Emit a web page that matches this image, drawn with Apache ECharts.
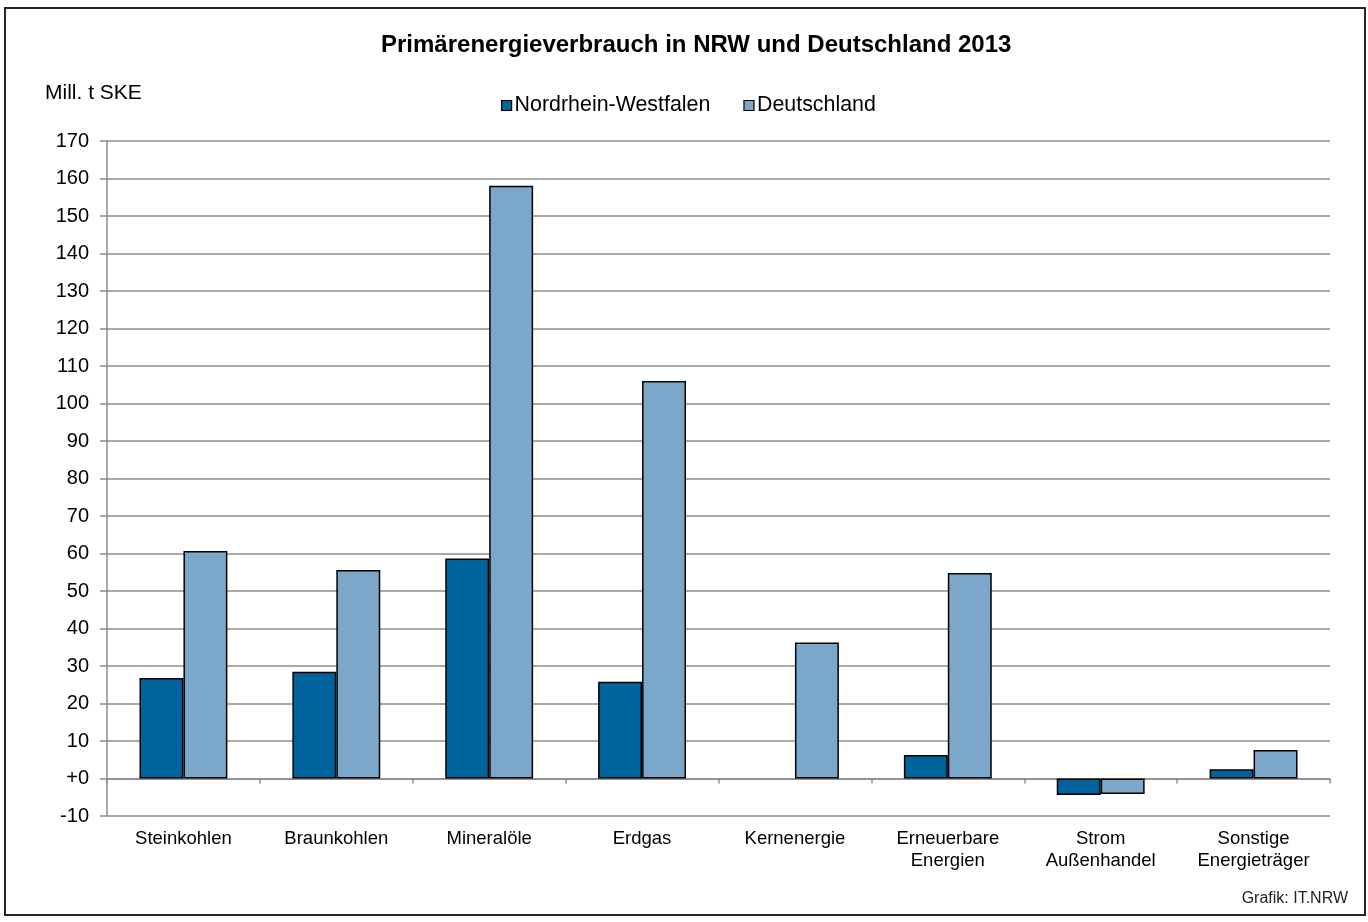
<!DOCTYPE html>
<html>
<head>
<meta charset="utf-8">
<script src="https://cdn.jsdelivr.net/npm/echarts@6/dist/echarts.min.js"></script>
<style>html,body{margin:0;padding:0;background:#fff}#c{width:1368px;height:922px}</style>
</head>
<body>
<div id="c"></div>
<script>
const categories = ['Steinkohlen','Braunkohlen','Mineralöle','Erdgas','Kernenergie','Erneuerbare\nEnergien','Strom\nAußenhandel','Sonstige\nEnergieträger'];
const nrwValues = [26.8, 28.5, 58.7, 25.8, 0, 6.3, -4.4, 2.5];
const deValues = [60.7, 55.6, 158.1, 106.0, 36.3, 54.8, -4.1, 7.6];
const seriesNames = ['Nordrhein-Westfalen', 'Deutschland'];
const yMin = -10, yMax = 170, yStep = 10;

const font = 'Liberation Sans, Arial, sans-serif';
const noBorderZero = arr => arr.map(v => v === 0 ? {value: v, itemStyle: {borderWidth: 0}} : v);
const chart = echarts.init(document.getElementById('c'), null, {renderer: 'canvas'});
chart.setOption({
  animation: false,
  backgroundColor: '#fff',
  textStyle: {fontFamily: font},
  title: {
    text: 'Primärenergieverbrauch in NRW und Deutschland 2013',
    left: 376, top: 28,
    textStyle: {fontFamily: font, fontSize: 24, fontWeight: 'bold', color: '#000'}
  },
  legend: {
    data: seriesNames,
    top: 90, left: 496,
    icon: 'rect',
    itemWidth: 10, itemHeight: 10, itemGap: 33,
    textStyle: {fontFamily: font, fontSize: 21.4, color: '#000', padding: [0,0,0,-2]},
    itemStyle: {borderColor: '#000', borderWidth: 1.2}
  },
  graphic: [
    {type: 'rect', shape: {x: 5, y: 8, width: 1360, height: 907}, style: {fill: 'none', stroke: '#262626', lineWidth: 2}, silent: true},
    {type: 'text', left: 45, top: 83, style: {text: 'Mill. t SKE', font: '21px ' + font, fill: '#000'}},
    {type: 'text', right: 20, top: 891, style: {text: 'Grafik: IT.NRW', font: '16px ' + font, fill: '#222'}}
  ],
  grid: {left: 107, right: 38, top: 141, bottom: 106, containLabel: false},
  xAxis: [
    {
      type: 'category', data: categories,
      axisLine: {onZero: true, lineStyle: {color: '#8c8c8c', width: 1.5}},
      axisTick: {show: true, length: 5, lineStyle: {color: '#8c8c8c', width: 1.5}},
      axisLabel: {show: false},
      splitLine: {show: false}
    },
    {
      type: 'category', data: categories, position: 'bottom',
      axisLine: {show: false}, axisTick: {show: false},
      axisLabel: {show: true, interval: 0, fontFamily: font, fontSize: 18.5, color: '#000', margin: 12, lineHeight: 22}
    }
  ],
  yAxis: {
    type: 'value', min: yMin, max: yMax, interval: yStep,
    axisLine: {show: true, lineStyle: {color: '#8c8c8c', width: 1.5}},
    axisTick: {show: true, length: 7, lineStyle: {color: '#8c8c8c', width: 1.5}},
    axisLabel: {fontFamily: font, fontSize: 20, color: '#000', margin: 18,
      formatter: v => v === 0 ? '+0' : String(v)},
    splitLine: {show: true, lineStyle: {color: '#8c8c8c', width: 1.5}}
  },
  series: [
    {name: seriesNames[0], type: 'bar', data: noBorderZero(nrwValues), xAxisIndex: 0,
     barGap: '0%', barCategoryGap: '42.5%',
     itemStyle: {color: '#00639C', borderColor: '#000', borderWidth: 1.5}},
    {name: seriesNames[1], type: 'bar', data: noBorderZero(deValues), xAxisIndex: 0,
     barGap: '0%', barCategoryGap: '42.5%',
     itemStyle: {color: '#7BA7CB', borderColor: '#000', borderWidth: 1.5}}
  ]
});
</script>
</body>
</html>
